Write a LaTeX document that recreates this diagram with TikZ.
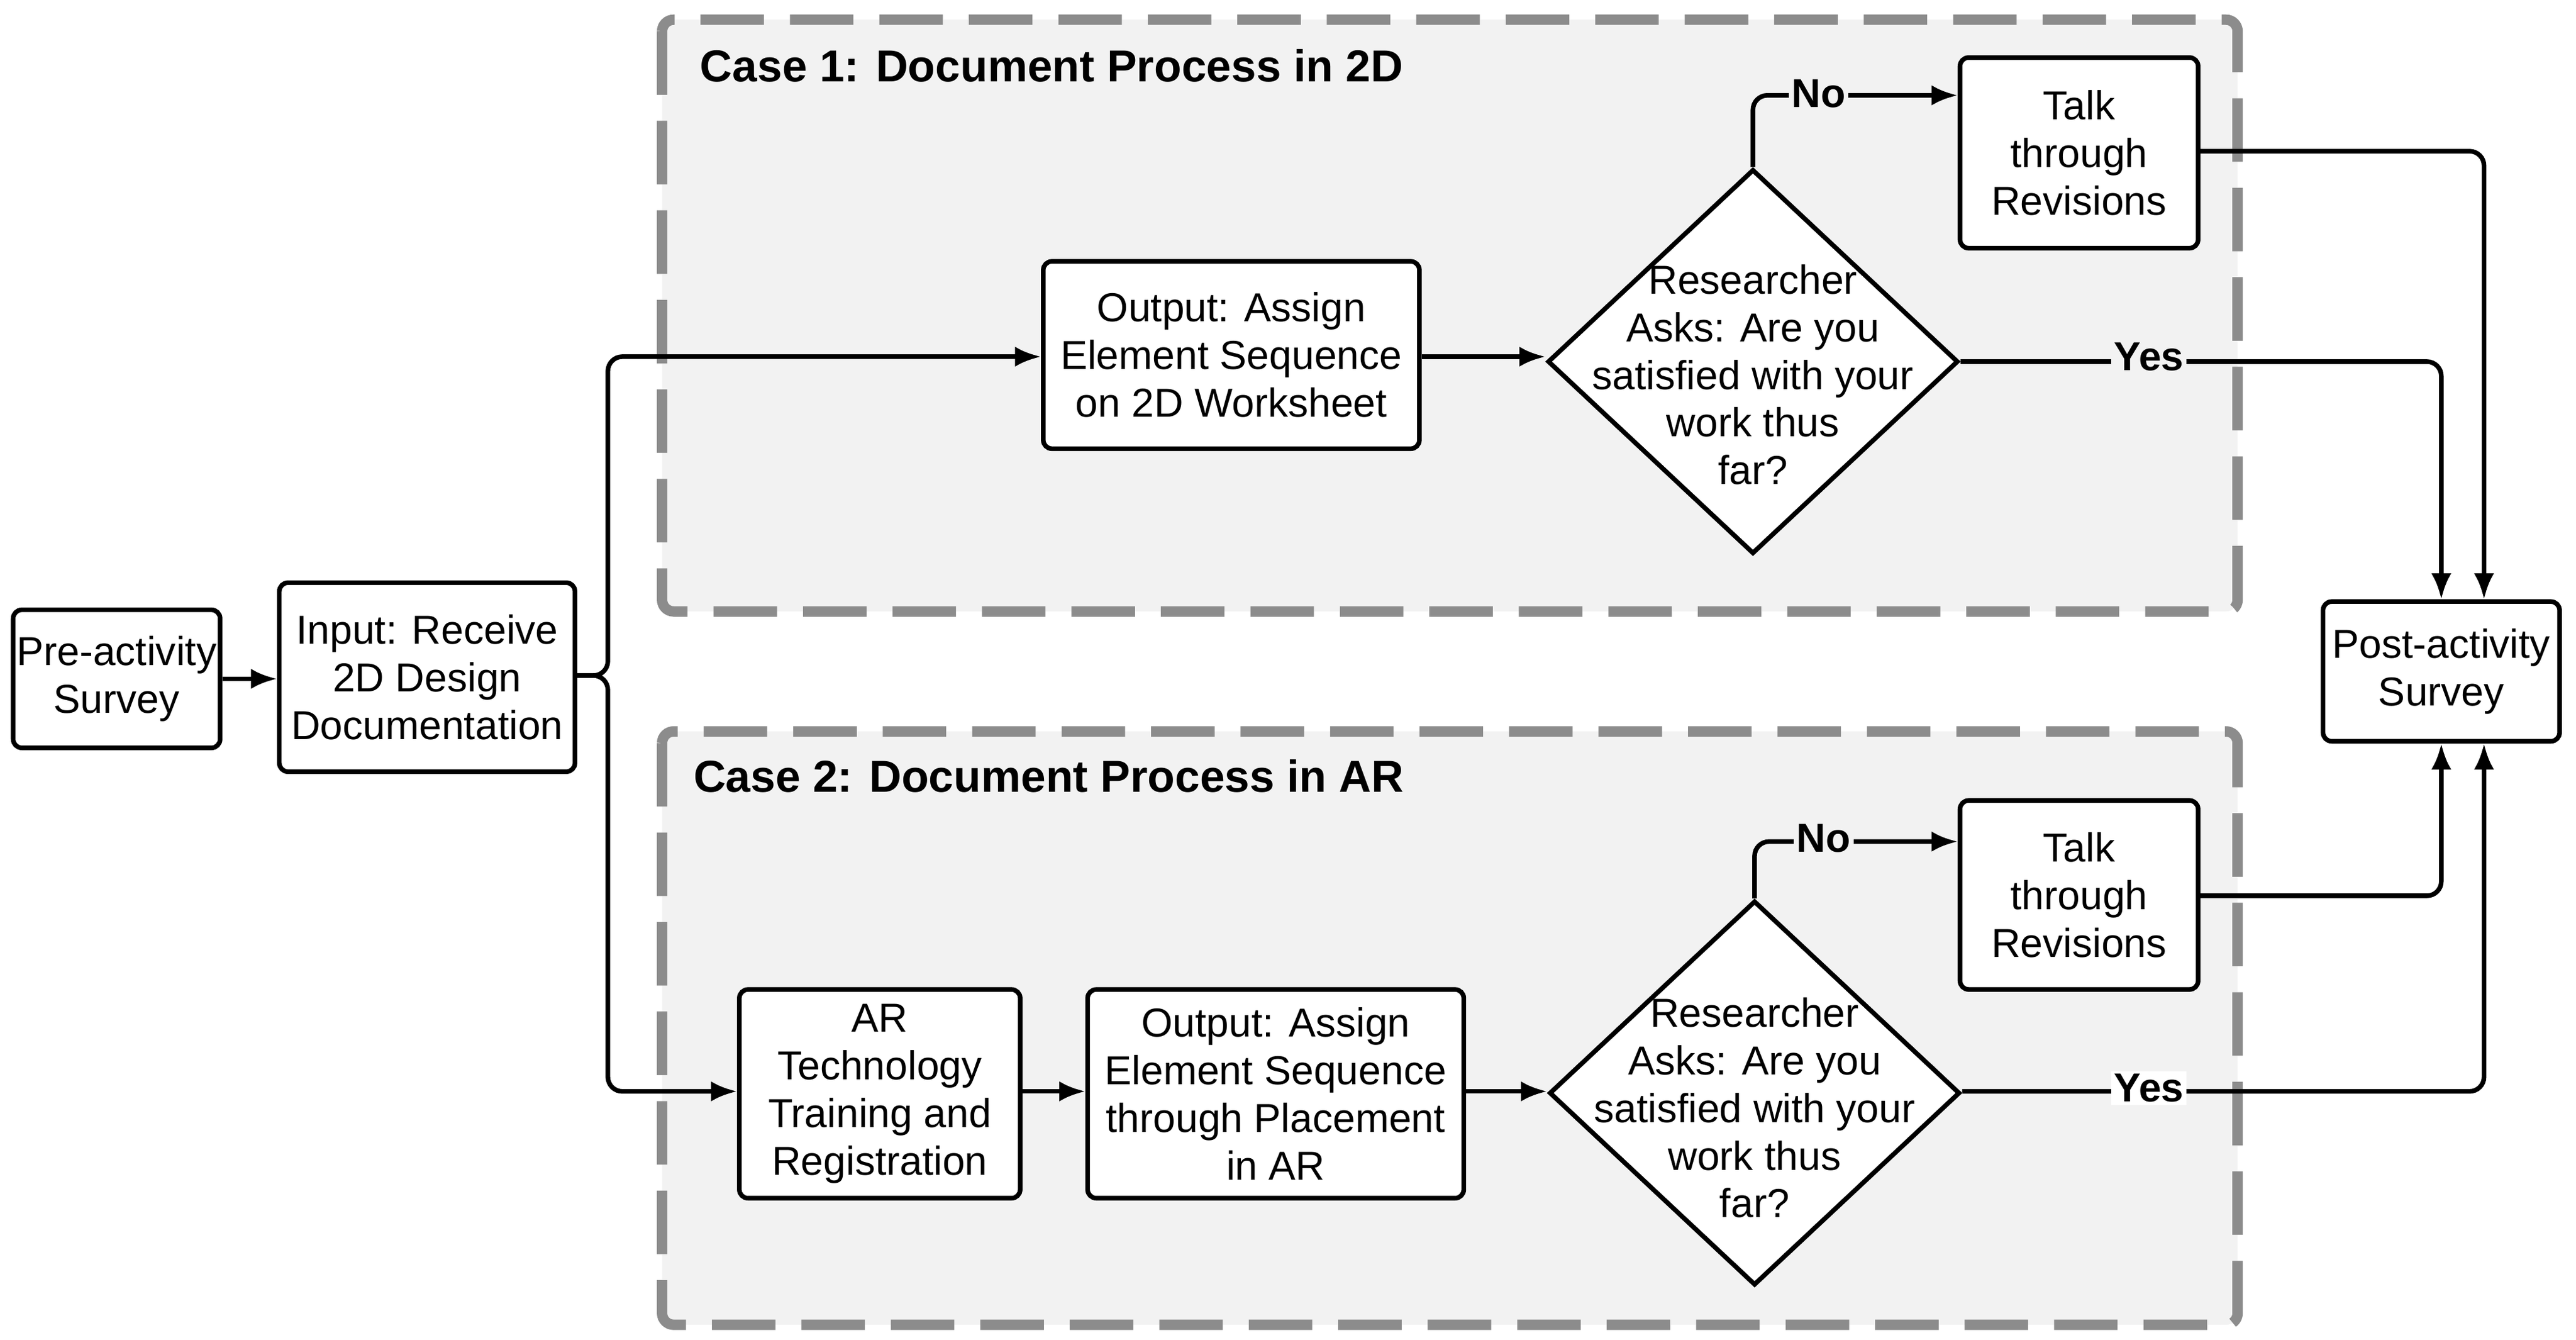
\documentclass[tikz,border=0pt]{standalone}
\usepackage{fontspec}
\setmainfont{Liberation Sans}
\usetikzlibrary{shapes.geometric,arrows.meta}
\begin{document}
\begin{tikzpicture}[x=0.02cm,y=-0.02cm,
  box/.style={draw,line width=1.6pt,rounded corners=3pt,fill=white,align=center,font=\fontsize{14}{16.5}\selectfont,inner sep=0pt},
  dia/.style={draw,diamond,line width=1.6pt,fill=white,inner sep=0pt,minimum width=5cm,minimum height=4.68cm},
  dtxt/.style={align=center,font=\fontsize{14}{16.5}\selectfont},
  case/.style={draw=black!45,fill=black!5,line width=3.6pt,dash pattern=on 22pt off 9pt,rounded corners=4pt},
  arr/.style={line width=1.6pt,-{Latex[length=9pt,width=7pt]},rounded corners=5pt},
  lab/.style={font=\bfseries\fontsize{14}{16}\selectfont,fill=black!5,inner sep=1pt},
  title/.style={font=\bfseries\fontsize{15.5}{18}\selectfont,anchor=west}]
\useasboundingbox (0,0) rectangle (1568,815);
\draw[case] (403,12) rectangle (1362,372);
\draw[case] (403,445) rectangle (1362,806);
\node[title] (c1) at (420,40) {Case 1: Document Process in 2D};
\node[title] (c2) at (416,472) {Case 2: Document Process in AR};

\node[box,minimum width=2.52cm,minimum height=1.68cm] (pre) at (71,413) {Pre-activity\\Survey};
\node[box,minimum width=3.6cm,minimum height=2.3cm] (in) at (260,412) {Input: Receive\\2D Design\\Documentation};
\node[box,minimum width=4.58cm,minimum height=2.28cm] (o1) at (749.5,216) {Output: Assign\\Element Sequence\\on 2D Worksheet};
\node[dia] (d1) at (1067,220) {};
\node[dtxt] (d1t) at (1067,228) {Researcher\\Asks: Are you\\satisfied with your\\work thus\\far?};
\node[box,minimum width=2.9cm,minimum height=2.32cm] (t1) at (1265.5,93) {Talk\\through\\Revisions};
\node[box,minimum width=2.88cm,minimum height=1.7cm] (post) at (1486,408.5) {Post-activity\\Survey};

\node[box,minimum width=3.42cm,minimum height=2.54cm] (ar) at (535.5,665.5) {AR\\Technology\\Training and\\Registration};
\node[box,minimum width=4.58cm,minimum height=2.54cm] (o2) at (776.5,665.5) {Output: Assign\\Element Sequence\\through Placement\\in AR};
\node[dia] (d2) at (1068,665) {};
\node[dtxt] (d2t) at (1068,674) {Researcher\\Asks: Are you\\satisfied with your\\work thus\\far?};
\node[box,minimum width=2.9cm,minimum height=2.3cm] (t2) at (1265.5,544.5) {Talk\\through\\Revisions};

\draw[arr] (pre.east) -- (in.west |- pre.east);
\coordinate (br) at (370,411);
\draw[arr] (in.east |- br) -- (br) |- (o1.west |- 0,217);
\draw[arr] (in.east |- br) -- (br) |- (ar.west |- 0,664);
\draw[arr] (o1.east |- 0,217) -- (d1.west |- 0,217);
\draw[arr] (d1.north) |- (t1.west |- 0,58);
\node[lab] (no1) at (1107,57) {No};
\draw[arr] (d1.east) -| (post.north -| 1486,0);
\node[lab] (yes1) at (1308,217) {Yes};
\draw[arr] (t1.east |- 0,92) -| (post.north -| 1512,0);

\draw[arr] (ar.east |- 0,664) -- (o2.west |- 0,664);
\draw[arr] (o2.east |- 0,664) -- (d2.west |- 0,664);
\draw[arr] (d2.north) |- (t2.west |- 0,512);
\node[lab] (no2) at (1110,510) {No};
\draw[arr] (t2.east |- 0,545) -| (post.south -| 1486,0);
\draw[arr] (d2.east |- 0,664) -| (post.south -| 1512,0);
\node[lab,fill=white] (yes2) at (1308,662) {Yes};
\end{tikzpicture}
\end{document}
